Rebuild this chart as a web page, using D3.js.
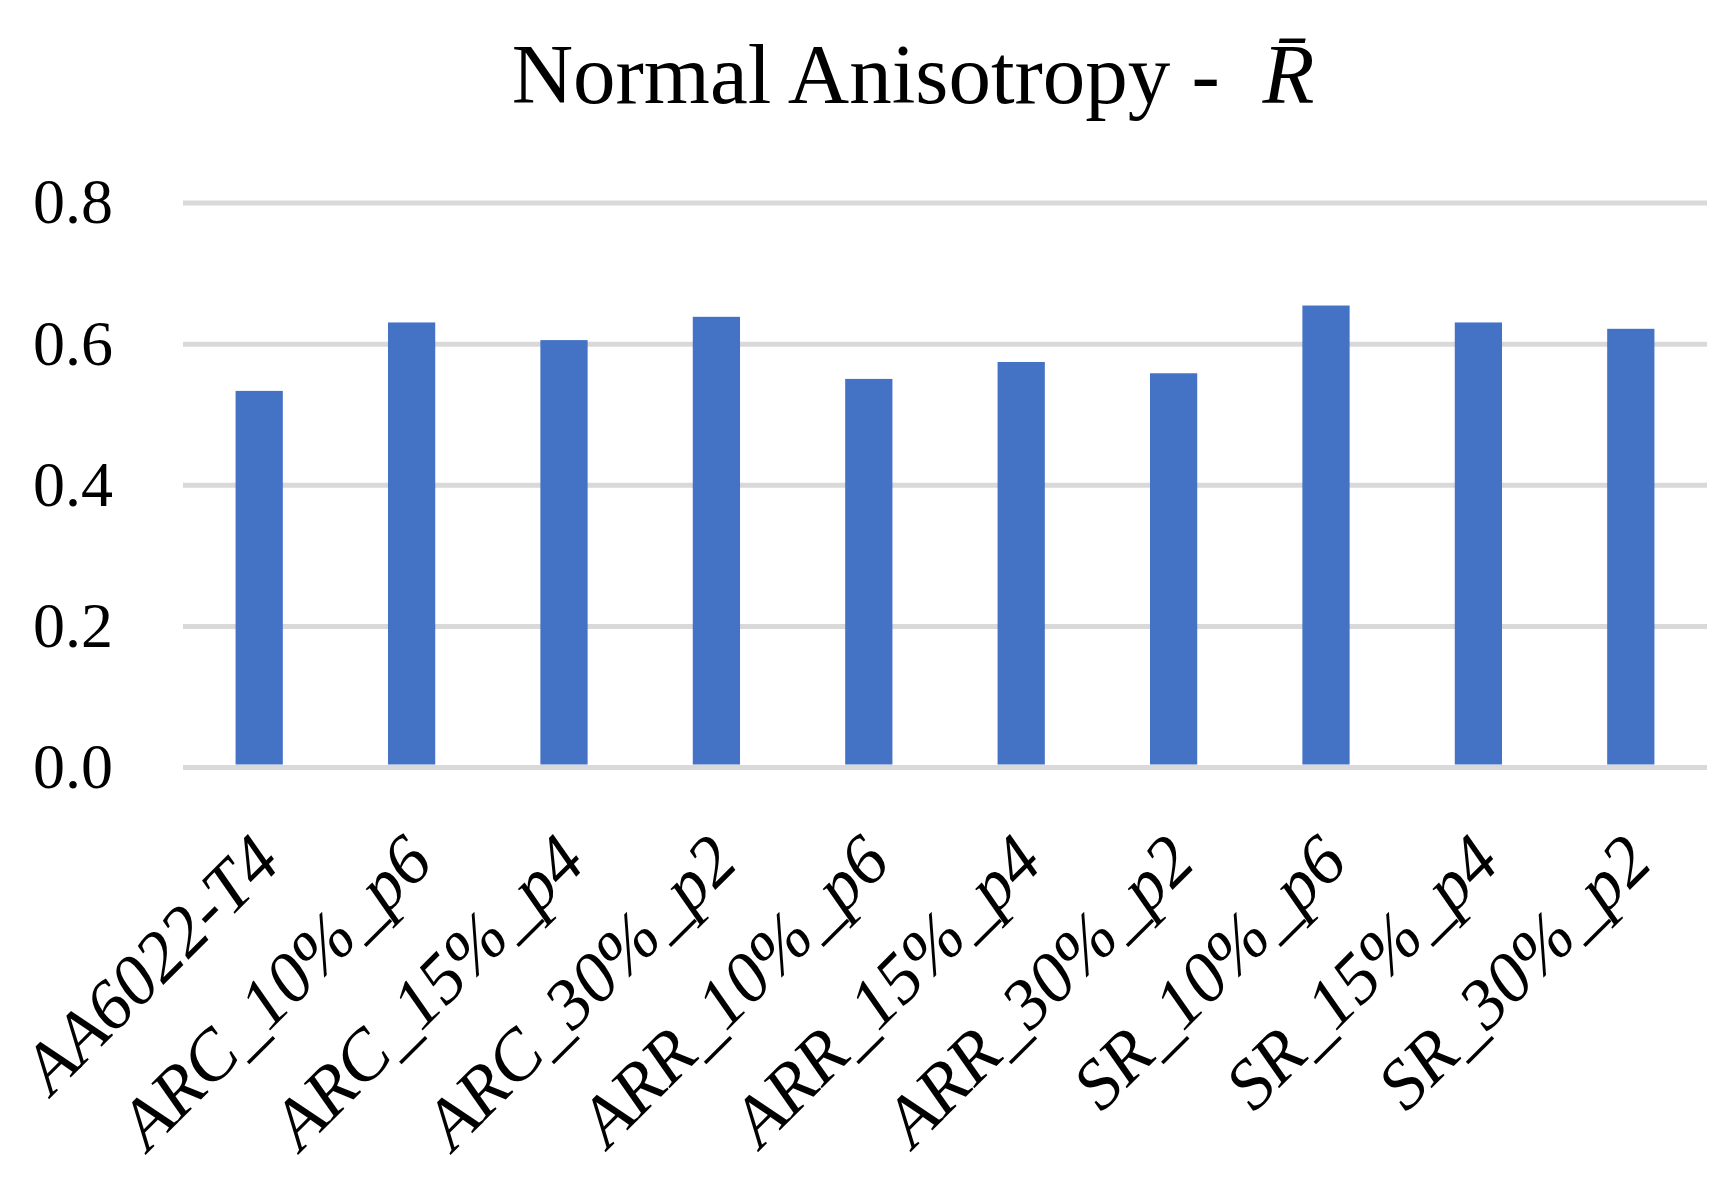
<!DOCTYPE html>
<html>
<head>
<meta charset="utf-8">
<script src="https://cdn.jsdelivr.net/npm/d3@7"></script>
<style>
  body { margin: 0; background: #fff; }
</style>
</head>
<body>
<div id="plot"></div>
<script>
var categories = ["AA6022-T4", "ARC_10%_p6", "ARC_15%_p4", "ARC_30%_p2", "ARR_10%_p6",
                  "ARR_15%_p4", "ARR_30%_p2", "SR_10%_p6", "SR_15%_p4", "SR_30%_p2"];
var values = [0.533, 0.630, 0.605, 0.638, 0.550, 0.574, 0.558, 0.654, 0.630, 0.621];
var yTicks = [0, 0.2, 0.4, 0.6, 0.8];

plotBarChart();

function plotBarChart() {
    var width = 1735;
    var height = 1184;
    var left = 183, right = 1707, top = 202.5, bottom = 767;

    var svg = d3.select("#plot").append("svg").attr("width", width).attr("height", height);

    var xScale = d3.scaleBand()
        .range([left, right])
        .paddingInner(0.69)
        .paddingOuter(0.345)
        .domain(categories);

    var yScale = d3.scaleLinear()
        .domain([0, 0.8])
        .range([bottom, top]);

    // title
    var title = svg.append("text")
        .attr("x", 913)
        .attr("y", 103)
        .attr("text-anchor", "middle")
        .style("font-family", "'Liberation Serif', serif")
        .style("font-size", "85px")
        .attr("fill", "#000");
    title.append("tspan").text("Normal Anisotropy -\u00a0\u00a0");
    title.append("tspan").style("font-style", "italic").text("R\u0304");

    // y axis with gridlines
    var yAxis = svg.append("g")
        .attr("transform", "translate(" + left + ",0)")
        .call(d3.axisLeft(yScale)
            .tickValues(yTicks)
            .tickFormat(d3.format(".1f"))
            .tickSizeInner(-(right - left))
            .tickSizeOuter(0)
            .tickPadding(70));
    yAxis.select(".domain").remove();
    yAxis.selectAll(".tick line").attr("stroke", "#d9d9d9").attr("stroke-width", 5);
    yAxis.selectAll(".tick text")
        .attr("fill", "#000")
        .style("font-family", "'Liberation Serif', serif")
        .style("font-size", "64px");

    // bars
    svg.append("g")
        .selectAll("rect")
        .data(values)
        .enter()
        .append("rect")
        .attr("x", function(d, i) { return xScale(categories[i]); })
        .attr("y", function(d) { return yScale(d); })
        .attr("width", xScale.bandwidth())
        .attr("height", function(d) { return yScale(0) - yScale(d) - 2.5; })
        .attr("fill", "#4472c4");

    // x labels
    var xAxis = svg.append("g")
        .attr("transform", "translate(0," + bottom + ")")
        .call(d3.axisBottom(xScale).tickSize(0).tickPadding(0));
    xAxis.select(".domain").remove();
    xAxis.selectAll(".tick text")
        .attr("text-anchor", "end")
        .attr("dy", 0)
        .attr("y", 0)
        .attr("transform", "translate(24,98) rotate(-45)")
        .attr("fill", "#000")
        .style("font-family", "'Liberation Serif', serif")
        .style("font-style", "italic")
        .style("font-size", "71px");
}
</script>
</body>
</html>
